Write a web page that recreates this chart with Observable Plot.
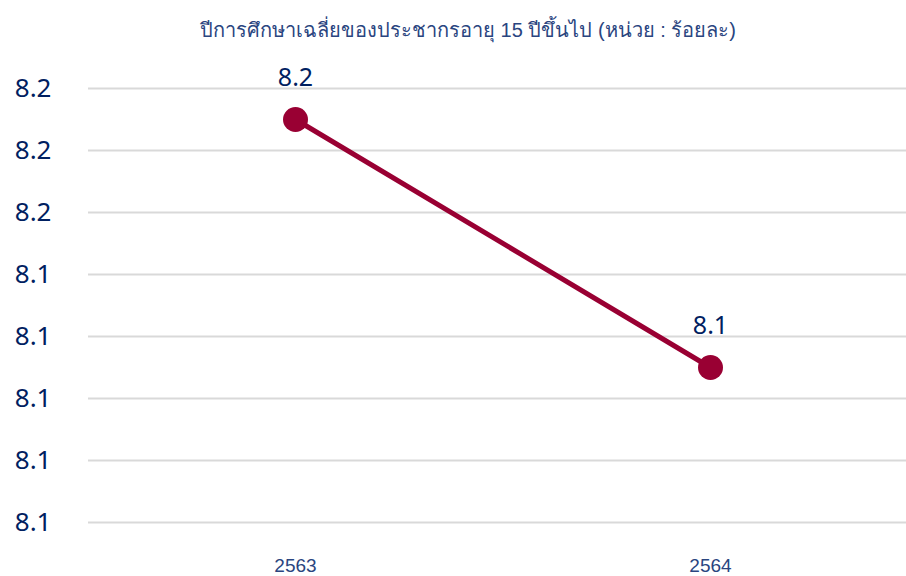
<!DOCTYPE html>
<html>
<head>
<meta charset="utf-8">
<script src="https://cdn.jsdelivr.net/npm/d3@7"></script>
<script src="https://cdn.jsdelivr.net/npm/@observablehq/plot@0.6"></script>
<style>
  html, body { margin: 0; padding: 0; background: #fff; }
  #title { height: 50px; width: 906px; box-sizing: border-box; padding-left: 30px; text-align: center; font-family: "Liberation Sans", "Noto Sans", sans-serif; font-weight: normal; font-size: 20px; color: #2a4580; line-height: 60px; white-space: nowrap; }
</style>
</head>
<body>
<div id="title">ปีการศึกษาเฉลี่ยของประชากรอายุ 15 ปีขึ้นไป (หน่วย : ร้อยละ)</div>
<div id="chart"></div>
<script>
const years = ["2563", "2564"];
const values = [8.19, 8.11];
const yTicks = [8.06, 8.08, 8.10, 8.12, 8.14, 8.16, 8.18, 8.20];

const data = years.map((y, i) => ({year: y, value: values[i]}));
const fmt = d3.format(".1f");
const navy = "#002060";
const wine = "#990033";

const chart = Plot.plot({
  width: 906,
  height: 526,
  marginLeft: 88,
  marginRight: 0,
  marginTop: 38,
  marginBottom: 54,
  style: { fontFamily: "'Noto Sans', 'Open Sans', sans-serif", background: "#fff" },
  x: { type: "point", domain: years, range: [295, 710], padding: 0 },
  y: { domain: [8.06, 8.20] },
  marks: [
    Plot.ruleY(yTicks, { stroke: "#d9d9d9", strokeWidth: 2 }),
    Plot.axisY({ ticks: yTicks, tickFormat: fmt, tickSize: 0, tickPadding: 37, fontSize: 26, color: navy, label: null }),
    Plot.axisX({ tickSize: 0, tickPadding: 36, fontSize: 19, color: "#2a4580", label: null, fontFamily: "'Liberation Sans', sans-serif" }),
    Plot.line(data, { x: "year", y: "value", stroke: wine, strokeWidth: 5 }),
    Plot.dot(data, { x: "year", y: "value", r: 12.5, fill: wine, stroke: "none" }),
    Plot.text(data, { x: "year", y: "value", text: d => fmt(d.value), dy: -42, fontSize: 25, fill: navy })
  ]
});
document.getElementById("chart").appendChild(chart);
</script>
</body>
</html>
